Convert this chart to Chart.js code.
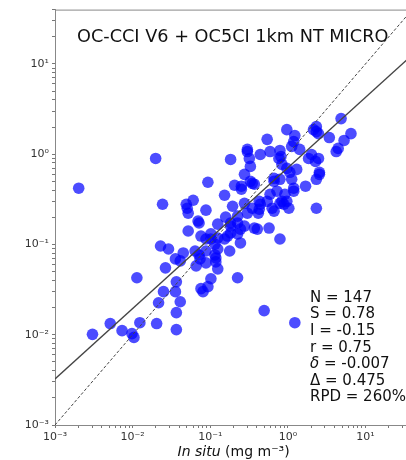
<!DOCTYPE html>
<html>
<head>
<meta charset="utf-8">
<script src="https://cdn.jsdelivr.net/npm/chart.js@4.4.0/dist/chart.umd.min.js"></script>
<style>
  html, body { margin: 0; padding: 0; background: #fff; overflow: hidden; }
  canvas { display: block; }
</style>
</head>
<body>
<canvas id="scatter" width="418" height="460"></canvas>
<script>
const chartTitle = 'OC-CCI V6 + OC5CI 1km NT MICRO';

// in situ chlorophyll (x) and satellite chlorophyll (y), mg m-3
const inSitu = [
  4.85, 2.33, 2.14, 0.97, 2.48, 6.50, 1.23, 3.42, 5.30, 1.19,
  0.541, 4.45, 1.42, 0.791, 0.590, 0.301, 2.02, 0.441, 2.48, 0.767,
  0.0198, 0.183, 0.319, 0.839, 0.970, 1.30, 2.55, 0.329, 0.276, 0.348,
  0.206, 0.252, 0.370, 0.0933, 0.00202, 0.664, 0.791, 1.12, 2.33, 1.69,
  1.19, 0.724, 0.590, 0.916, 0.153, 0.428, 0.839, 0.627, 1.03, 2.33,
  0.889, 0.416, 0.441, 0.664, 0.573, 0.791, 0.0243, 0.0491, 0.0603, 0.0520,
  0.0881, 0.0697, 0.125, 0.194, 0.276, 0.348, 0.301, 0.225, 0.183, 0.276,
  0.370, 0.0520, 0.0760, 0.102, 0.125, 0.167, 0.115, 0.225, 0.245, 0.178,
  0.0229, 0.0290, 0.0449, 0.0356, 0.0638, 0.0739, 0.0881, 0.118, 0.125, 0.0658,
  0.0265, 0.0881, 0.118, 0.0411, 0.158, 0.01135, 0.0366, 0.102, 0.225, 0.0933,
  0.0760, 0.0250, 0.0356, 0.0411, 0.0216, 0.495, 0.0366, 1.23, 0.00515, 0.0124,
  0.0204, 0.00304, 0.00731, 0.0098, 0.0104, 0.0366, 0.102, 0.153, 0.125, 1.06,
  1.85, 4.20, 0.245, 0.404, 0.791, 0.0807, 0.183, 1.12, 2.27, 0.0505,
  0.0718, 0.0718, 0.115, 0.815, 2.33, 2.55, 0.664, 1.19, 0.329, 0.301,
  0.252, 0.428, 0.970, 0.225, 0.183, 0.0881, 0.541
];
const satellite = [
  2.48, 2.02, 1.87, 1.87, 1.69, 1.69, 1.61, 1.53, 1.42, 1.38,
  1.46, 1.16, 1.13, 1.10, 1.07, 1.13, 0.993, 0.993, 0.897, 0.897,
  0.897, 0.875, 0.897, 0.771, 0.697, 0.679, 0.630, 0.733, 0.598, 0.476,
  0.453, 0.442, 0.465, 0.489, 0.420, 0.541, 0.527, 0.527, 0.527, 0.442,
  0.420, 0.389, 0.360, 0.360, 0.351, 0.301, 0.301, 0.252, 0.252, 0.252,
  0.279, 0.222, 0.279, 0.234, 0.152, 0.115, 0.279, 0.279, 0.309, 0.222,
  0.240, 0.182, 0.168, 0.265, 0.286, 0.252, 0.222, 0.206, 0.160, 0.160,
  0.152, 0.141, 0.124, 0.131, 0.118, 0.124, 0.101, 0.131, 0.104, 0.0847,
  0.0962, 0.0891, 0.0805, 0.0692, 0.0847, 0.0692, 0.0625, 0.0709, 0.0537, 0.0579,
  0.0551, 0.0847, 0.0641, 0.0658, 0.201, 0.0428, 0.0386, 0.0417, 0.0428, 0.0341,
  0.0324, 0.0300, 0.0300, 0.0232, 0.0226, 0.0185, 0.0176, 0.0136, 0.0133, 0.0136,
  0.0133, 0.0101, 0.0111, 0.0103, 0.00934, 0.0114, 0.115, 0.115, 0.0891, 0.630,
  0.897, 1.07, 0.148, 0.148, 0.286, 0.0300, 0.173, 1.22, 0.832, 0.252,
  0.173, 0.0765, 0.0765, 0.944, 1.78, 0.598, 0.501, 0.389, 0.501, 1.07,
  0.409, 0.246, 0.301, 0.173, 0.134, 0.115, 0.301
];

const statLabels = ['N', 'S', 'I', 'r', 'δ', 'Δ', 'RPD'];
const statValues = ['147', '0.78', '-0.15', '0.75', '-0.007', '0.475', '260%'];
const slope = 0.78;
const intercept = -0.15;

const axisMin = 0.001;
const axisMax = 40;
const majorTicks = [0.001, 0.01, 0.1, 1, 10];
const tickLabels = ['10⁻³', '10⁻²', '10⁻¹', '10⁰', '10¹'];

// major + minor tick positions for the log axes
const tickValues = [];
majorTicks.forEach(m => {
  for (let k = 1; k <= 9; k++) {
    const v = +(m * k).toPrecision(3);
    if (v <= axisMax) tickValues.push(v);
  }
});

function tickLabel(v) {
  const i = majorTicks.findIndex(m => Math.abs(v - m) / m < 1e-6);
  return i >= 0 ? tickLabels[i] : '';
}

const points = inSitu.map((x, i) => ({ x: x, y: satellite[i] }));
const oneToOne = [{ x: axisMin, y: axisMin }, { x: axisMax, y: axisMax }];
const fitLine = [axisMin, axisMax].map(x => ({
  x: x, y: Math.pow(10, intercept + slope * Math.log10(x))
}));

const font = '"DejaVu Sans", "Liberation Sans", sans-serif';

const annotations = {
  id: 'annotations',
  afterDraw(chart) {
    const { ctx, chartArea: a } = chart;
    ctx.save();
    // top frame line
    ctx.strokeStyle = '#888';
    ctx.lineWidth = 1;
    ctx.beginPath();
    ctx.moveTo(a.left, a.top + 0.5);
    ctx.lineTo(a.right, a.top + 0.5);
    ctx.stroke();

    ctx.fillStyle = '#111';
    ctx.textBaseline = 'middle';
    ctx.textAlign = 'left';
    ctx.font = '17.7px ' + font;
    ctx.fillText(chartTitle, a.left + 22, a.top + 28);

    // statistics box
    ctx.font = '15px ' + font;
    const x0 = a.left + 255;
    statLabels.forEach((lab, i) => {
      const y = a.bottom - 127 + i * 16.6;
      if (lab === 'δ') {
        ctx.font = 'italic 15px ' + font;
        ctx.fillText(lab, x0, y);
        const w = ctx.measureText(lab).width;
        ctx.font = '15px ' + font;
        ctx.fillText(' = ' + statValues[i], x0 + w, y);
      } else {
        ctx.fillText(lab + ' = ' + statValues[i], x0, y);
      }
    });

    // x axis title with italic "In situ"
    const p1 = 'In situ';
    const p2 = ' (mg m⁻³)';
    ctx.font = 'italic 14px ' + font;
    const w1 = ctx.measureText(p1).width;
    ctx.font = '14px ' + font;
    const w2 = ctx.measureText(p2).width;
    const cx = (a.left + a.right) / 2;
    const ty = a.bottom + 27;
    ctx.font = 'italic 14px ' + font;
    ctx.fillText(p1, cx - (w1 + w2) / 2, ty);
    ctx.font = '14px ' + font;
    ctx.fillText(p2, cx - (w1 + w2) / 2 + w1, ty);
    ctx.restore();
  }
};

function logAxis(extra) {
  return Object.assign({
    type: 'logarithmic',
    min: axisMin,
    max: axisMax,
    afterBuildTicks: s => { s.ticks = tickValues.map(v => ({ value: v })); },
    ticks: {
      autoSkip: false,
      maxRotation: 0,
      color: '#333',
      font: { family: font, size: 11 },
      callback: v => tickLabel(v)
    },
    grid: { drawOnChartArea: false, tickLength: 3, color: '#777' },
    border: { color: '#888', width: 1 }
  }, extra);
}

const scatterConfig = {
  type: 'scatter',
  data: {
    datasets: [
      {
        data: oneToOne,
        showLine: true,
        borderColor: '#444',
        borderWidth: 1,
        borderDash: [3, 2],
        pointRadius: 0
      },
      {
        data: fitLine,
        showLine: true,
        borderColor: '#444',
        borderWidth: 1.3,
        pointRadius: 0
      },
      {
        data: points,
        backgroundColor: 'rgba(0, 0, 255, 0.7)',
        borderWidth: 0,
        pointRadius: 5.8
      }
    ]
  },
  options: {
    responsive: false,
    animation: false,
    layout: { padding: { top: 7, left: 0, right: 1, bottom: 0 } },
    plugins: { legend: { display: false }, tooltip: { enabled: false } },
    scales: {
      x: logAxis({ afterFit: s => { s.height = 35; } }),
      y: logAxis({ afterFit: s => { s.width = 55; } })
    }
  },
  plugins: [annotations]
};

const ctx = document.getElementById('scatter');
window.myScatter = new Chart(ctx, scatterConfig);
</script>
</body>
</html>
